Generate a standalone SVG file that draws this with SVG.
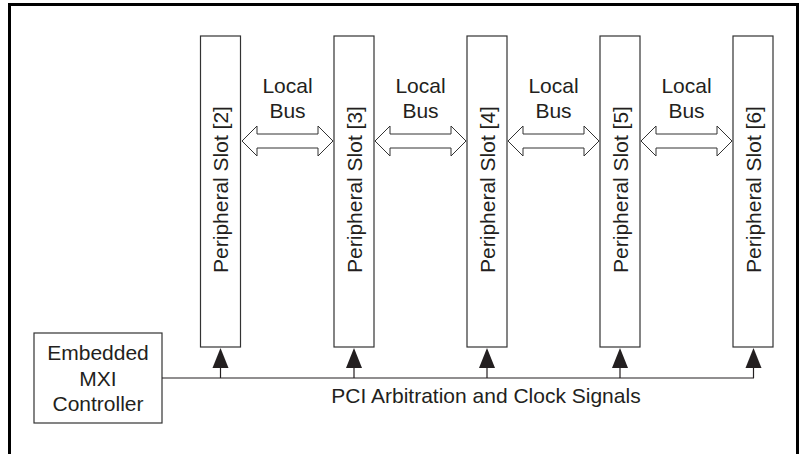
<svg xmlns="http://www.w3.org/2000/svg" width="800" height="454" viewBox="0 0 800 454">
<style>
.t{font-family:"Liberation Sans",Arial,sans-serif;font-size:21px;fill:#231f20}
.box{fill:#fff;stroke:#333;stroke-width:1.2}
.dbl{fill:#fff;stroke:#333;stroke-width:1}
.ln{fill:none;stroke:#231f20;stroke-width:1.2}
.ah{fill:#231f20}
</style>
<rect width="800" height="454" fill="#fff"/>
<rect x="9.5" y="4.5" width="788" height="470" fill="none" stroke="#000" stroke-width="3"/>
<g id="controller">
<rect class="box" x="34" y="333" width="128" height="90"/>
<text class="t" x="98" y="360" text-anchor="middle">Embedded</text>
<text class="t" x="98" y="386" text-anchor="middle">MXI</text>
<text class="t" x="98" y="411" text-anchor="middle">Controller</text>
</g>
<g id="slot2"><rect class="box" x="200.5" y="36" width="40" height="311"/><text class="t" transform="translate(228,189.5) rotate(-90)" text-anchor="middle">Peripheral Slot [2]</text></g>
<g id="slot3"><rect class="box" x="334" y="36" width="40" height="311"/><text class="t" transform="translate(361.5,189.5) rotate(-90)" text-anchor="middle">Peripheral Slot [3]</text></g>
<g id="slot4"><rect class="box" x="467" y="36" width="40" height="311"/><text class="t" transform="translate(494.5,189.5) rotate(-90)" text-anchor="middle">Peripheral Slot [4]</text></g>
<g id="slot5"><rect class="box" x="600" y="36" width="40" height="311"/><text class="t" transform="translate(627.5,189.5) rotate(-90)" text-anchor="middle">Peripheral Slot [5]</text></g>
<g id="slot6"><rect class="box" x="733" y="36" width="40" height="311"/><text class="t" transform="translate(760.5,189.5) rotate(-90)" text-anchor="middle">Peripheral Slot [6]</text></g>
<g id="connectors">
<polygon class="dbl" points="242,141 257,126 257,134 318,134 318,126 333,141 318,156 318,148 257,148 257,156"/>
<polygon class="dbl" points="375,141 390,126 390,134 451,134 451,126 466,141 451,156 451,148 390,148 390,156"/>
<polygon class="dbl" points="508,141 523,126 523,134 584,134 584,126 599,141 584,156 584,148 523,148 523,156"/>
<polygon class="dbl" points="641,141 656,126 656,134 717,134 717,126 732,141 717,156 717,148 656,148 656,156"/>
<text class="t" x="287.5" y="93" text-anchor="middle">Local</text>
<text class="t" x="287.5" y="118" text-anchor="middle">Bus</text>
<text class="t" x="420.5" y="93" text-anchor="middle">Local</text>
<text class="t" x="420.5" y="118" text-anchor="middle">Bus</text>
<text class="t" x="553.5" y="93" text-anchor="middle">Local</text>
<text class="t" x="553.5" y="118" text-anchor="middle">Bus</text>
<text class="t" x="686.5" y="93" text-anchor="middle">Local</text>
<text class="t" x="686.5" y="118" text-anchor="middle">Bus</text>
<path class="ln" d="M162 378 H754 M220.5 378 V366 M354 378 V366 M487 378 V366 M620 378 V366 M753.5 378 V366"/>
<polygon class="ah" points="220.5,348 212.5,368 228.5,368"/>
<polygon class="ah" points="354,348 346,368 362,368"/>
<polygon class="ah" points="487,348 479,368 495,368"/>
<polygon class="ah" points="620,348 612,368 628,368"/>
<polygon class="ah" points="753.5,348 745.5,368 761.5,368"/>
<text class="t" x="486" y="403" text-anchor="middle">PCI Arbitration and Clock Signals</text>
</g>
</svg>
